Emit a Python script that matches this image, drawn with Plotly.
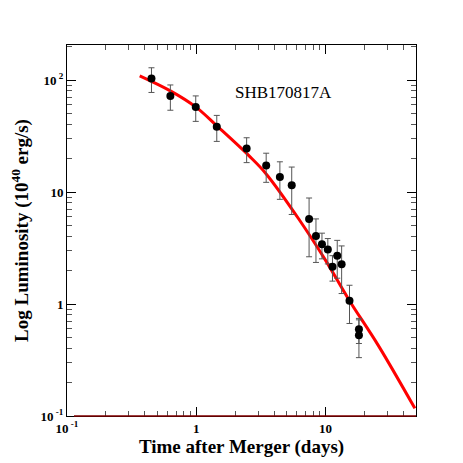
import plotly.graph_objects as go

# observed luminosity of SHB170817A
t_days = [0.45, 0.63, 0.99, 1.44, 2.45, 3.47, 4.43, 5.47, 7.45, 8.42,
          9.37, 10.4, 11.3, 12.3, 13.3, 15.3, 18.1, 18.1]
lum = [103, 72, 57.4, 38.3, 24.4, 17.2, 13.6, 11.5, 5.74, 4.05,
       3.41, 3.06, 2.15, 2.70, 2.27, 1.07, 0.594, 0.527]
lum_err = [25.6, 18.3, 14.7, 10.0, 6.1, 5.0, 5.0, 5.2, 3.1, 1.7,
           0.88, 0.78, 0.55, 1.0, 1.03, 0.40, 0.15, 0.195]

# model curve
model_t = [0.365, 0.63, 1.0, 1.44, 2.56, 3.47, 6.2, 10.0, 15.0, 25.6, 49.0]
model_lum = [109, 80, 57, 39, 21, 14.5, 5.74, 2.45, 1.11, 0.425, 0.117]

x_ticks = [0.1, 1, 10]
x_ticktext = ["<b>10<sup> -1</sup></b>", "<b>1</b>", "<b>10</b>"]
x_minor = [0.2, 0.3, 0.4, 0.5, 0.6, 0.7, 0.8, 0.9,
           2, 3, 4, 5, 6, 7, 8, 9, 20, 30, 40]
y_ticks = [0.1, 1, 10, 100]
y_ticktext = ["<b>10<sup> -1</sup></b>", "<b>1</b>", "<b>10</b>", "<b>10<sup> 2</sup></b>"]
y_minor = [0.2, 0.3, 0.4, 0.5, 0.6, 0.7, 0.8, 0.9,
           2, 3, 4, 5, 6, 7, 8, 9, 20, 30, 40, 50, 60, 70, 80, 90, 200]

font = "Liberation Serif, Times New Roman, serif"

fig = go.Figure()
fig.add_trace(go.Scatter(
    x=model_t, y=model_lum, mode="lines", line_shape="spline",
    line=dict(color="#ff0000", width=3), showlegend=False,
))
fig.add_trace(go.Scatter(
    x=t_days, y=lum, mode="markers",
    marker=dict(color="black", size=8),
    error_y=dict(type="data", array=lum_err, color="#555555",
                 thickness=1, width=3),
    showlegend=False,
))

axis_common = dict(
    type="log", showline=True, linecolor="black", linewidth=1,
    mirror="allticks", ticks="inside", ticklen=9, tickcolor="black",
    showgrid=False, zeroline=False, automargin=False,
    tickfont=dict(family=font, size=13, color="black"),
)

fig.update_xaxes(
    **axis_common, range=[-1, 1.699],
    tickvals=x_ticks, ticktext=x_ticktext,
    minor=dict(tickmode="array", tickvals=x_minor, ticks="inside",
               ticklen=5, tickcolor="#555555", showgrid=False),
    title=dict(text="<b>Time after Merger (days)</b>",
               font=dict(family=font, size=19, color="black"), standoff=4),
)
fig.update_yaxes(
    **axis_common, range=[-1, 2.3125],
    tickvals=y_ticks, ticktext=y_ticktext,
    minor=dict(tickmode="array", tickvals=y_minor, ticks="inside",
               ticklen=5, tickcolor="#555555", showgrid=False),
    title=dict(text="<b>Log Luminosity (10<sup>40</sup> erg/s)</b>",
               font=dict(family=font, size=19, color="black"), standoff=10),
)

fig.add_shape(type="line", xref="paper", yref="paper", x0=0.02, x1=1, y0=0, y1=0,
              line=dict(color="#800000", width=1.5))

fig.add_annotation(text="SHB170817A", xref="paper", yref="paper",
                   x=0.619, y=0.903, showarrow=False,
                   font=dict(family=font, size=17, color="black"))

# the page body adds an 8px margin, so the figure is 8px smaller
fig.update_layout(
    width=455, height=455,
    margin=dict(l=59, r=47, t=37, b=47),
    paper_bgcolor="white", plot_bgcolor="white",
)

fig.write_html("out.html")
